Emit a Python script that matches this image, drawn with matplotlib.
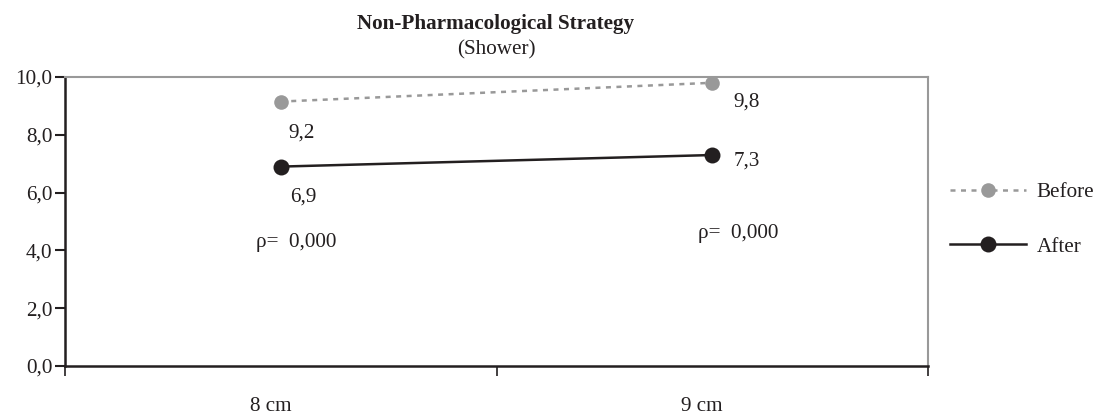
import matplotlib
matplotlib.use("Agg")
import matplotlib.pyplot as plt
from matplotlib.transforms import ScaledTranslation
from matplotlib.ticker import FuncFormatter, FixedLocator

categories = ["8 cm", "9 cm"]
before = [9.15, 9.8]
after = [6.9, 7.3]
before_labels = ["9,2", "9,8"]
after_labels = ["6,9", "7,3"]
p_labels = ["\u03c1=  0,000", "\u03c1=  0,000"]
yticks = [0, 2, 4, 6, 8, 10]

plt.rcParams['font.family'] = ['Liberation Serif', 'DejaVu Serif']
FS = 15.2

fig = plt.figure(figsize=(10.97, 4.17), dpi=100)
ax = fig.add_axes([65/1097, 1-366/417, (928-65)/1097, (366-77)/417])

x = list(range(len(categories)))
ax.plot(x, before, color="#999999", lw=1.8, ls=(0, (2, 2.2)), marker="o",
        markersize=10.5, markeredgewidth=0, label="Before", zorder=3)
ax.plot(x, after, color="#231f20", lw=1.8, ls="-", marker="o",
        markersize=11.5, markeredgewidth=0, label="After", zorder=3)

ax.set_xlim(-0.5, 1.5)
ax.set_ylim(0, 10)
ax.set_yticks(yticks)
ax.yaxis.set_major_formatter(FuncFormatter(lambda v, p: f"{v:.1f}".replace(".", ",")))
ax.tick_params(axis="y", direction="out", length=7, width=1.5, color="#231f20",
               labelsize=FS, pad=2, labelcolor="#231f20")

ax.xaxis.set_major_locator(FixedLocator([-0.5, 0.5, 1.5]))
ax.xaxis.set_major_formatter(FuncFormatter(lambda v, p: ""))
ax.xaxis.set_minor_locator(FixedLocator(x))
ax.set_xticklabels(categories, minor=True)
ax.tick_params(axis="x", which="major", direction="out", length=7, width=1.2, color="#231f20")
ax.tick_params(axis="x", which="minor", length=0, pad=22.5, labelsize=FS, labelcolor="#231f20")
for lab in ax.xaxis.get_minorticklabels():
    lab.set_transform(lab.get_transform() + ScaledTranslation(-0.10, 0, fig.dpi_scale_trans))

for s in ["top", "right"]:
    ax.spines[s].set_color("#999999")
    ax.spines[s].set_linewidth(1.5)
for s in ["left", "bottom"]:
    ax.spines[s].set_color("#231f20")
    ax.spines[s].set_linewidth(1.8)

# data labels
offs_before = [(15, -23), (25, -14)]
offs_after = [(16, -22), (25, -4)]
for i in x:
    ax.annotate(before_labels[i], (x[i], before[i]), xytext=offs_before[i],
                textcoords="offset points", ha="center", va="center", fontsize=FS,
                color="#231f20")
    ax.annotate(after_labels[i], (x[i], after[i]), xytext=offs_after[i],
                textcoords="offset points", ha="center", va="center", fontsize=FS,
                color="#231f20")

p_pos = [(0.035, 4.26), (1.06, 4.6)]
for (px, py), t in zip(p_pos, p_labels):
    ax.text(px, py, t, ha="center", va="center", fontsize=FS, color="#231f20")

leg = ax.legend(loc="center left", bbox_to_anchor=(1.025, 0.507), frameon=False,
                fontsize=FS, handlelength=3.6, handletextpad=0.52, labelspacing=1.65,
                borderpad=0, borderaxespad=0)
for t in leg.get_texts():
    t.set_color("#231f20")

fig.text(496/1097, 1-24/417, "Non-Pharmacological Strategy", ha="center", va="center",
         fontsize=FS, fontweight="bold", color="#231f20")
fig.text(496/1097, 1-50/417, "(Shower)", ha="center", va="center", fontsize=FS,
         color="#231f20")

fig.savefig("out.png", dpi=100)
